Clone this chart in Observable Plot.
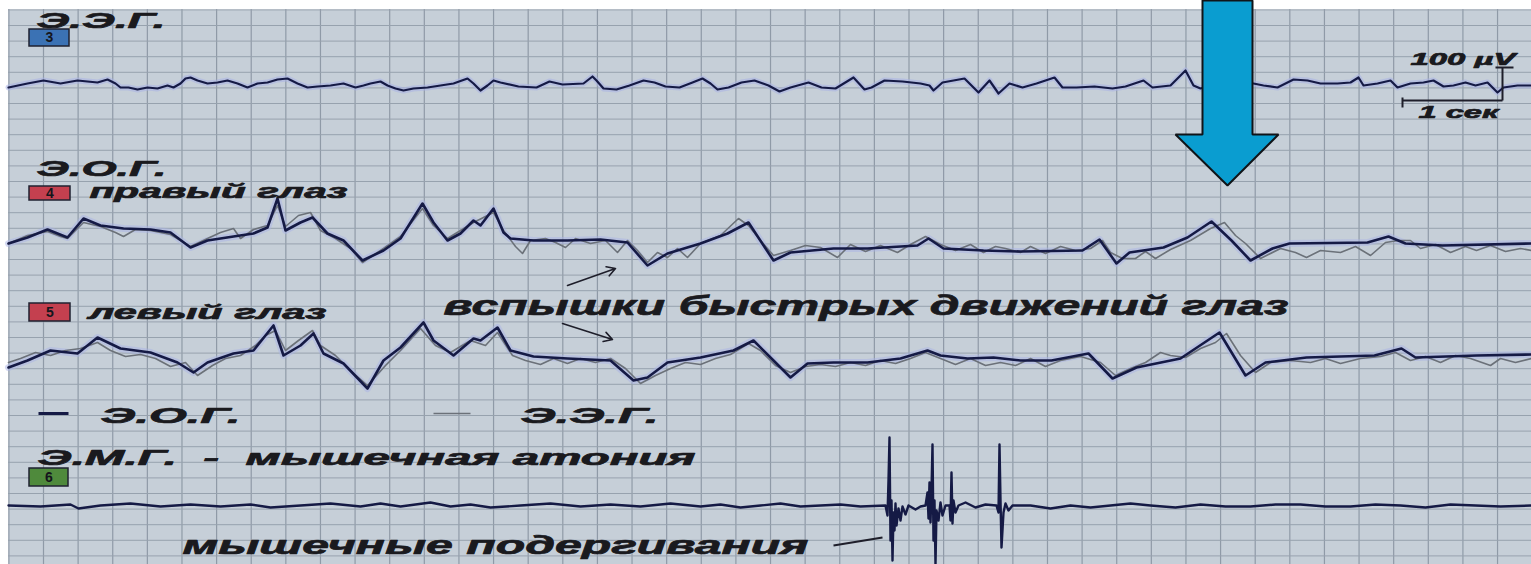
<!DOCTYPE html>
<html><head><meta charset="utf-8">
<script src="https://cdn.jsdelivr.net/npm/d3@7"></script>
<script src="https://cdn.jsdelivr.net/npm/@observablehq/plot@0.6"></script>
<style>html,body{margin:0;padding:0;background:#fff;overflow:hidden}#chart svg{display:block}</style>
</head><body><div id="chart"></div>
<script>
// ---- data: [time (s), amplitude (µV)] ----
const eeg = [[0.08,0],[0.27,12],[0.43,21],[0.60,12],[0.77,21],[0.97,15],[1.07,24],[1.15,12],[1.20,0],[1.28,0],[1.37,-6],[1.47,0],[1.57,-3],[1.67,6],[1.73,0],[1.80,12],[1.85,27],[1.90,30],[1.97,21],[2.07,12],[2.17,15],[2.27,21],[2.37,12],[2.47,0],[2.57,12],[2.67,15],[2.77,24],[2.87,27],[2.97,12],[3.07,0],[3.17,3],[3.30,6],[3.43,12],[3.55,0],[3.63,6],[3.70,12],[3.80,18],[3.87,6],[3.95,-3],[4.03,-9],[4.13,-3],[4.27,0],[4.40,6],[4.53,12],[4.67,27],[4.73,12],[4.80,-9],[4.87,6],[4.93,21],[5.00,15],[5.18,3],[5.36,0],[5.49,18],[5.62,9],[5.83,12],[5.92,33],[5.96,21],[6.03,-3],[6.16,-6],[6.29,6],[6.43,21],[6.54,15],[6.65,3],[6.79,0],[6.92,15],[7.02,27],[7.10,12],[7.17,-6],[7.28,0],[7.41,15],[7.54,21],[7.68,6],[7.79,-12],[7.90,0],[8.08,15],[8.21,0],[8.35,-3],[8.53,30],[8.64,-6],[8.71,0],[8.84,21],[9.02,18],[9.20,12],[9.29,6],[9.33,-9],[9.42,15],[9.64,27],[9.78,-15],[9.89,21],[9.98,-18],[10.09,12],[10.22,0],[10.36,12],[10.54,30],[10.62,0],[10.76,0],[10.94,3],[11.12,-3],[11.25,3],[11.43,21],[11.52,0],[11.70,6],[11.85,51],[11.93,6],[12.00,-3],[12.15,9],[12.30,3],[12.45,12],[12.53,12],[12.63,6],[12.77,0],[12.93,24],[13.07,21],[13.20,12],[13.37,12],[13.50,15],[13.58,30],[13.63,6],[13.77,12],[13.90,21],[13.97,0],[14.10,12],[14.23,15],[14.33,21],[14.43,3],[14.53,6],[14.65,15],[14.75,6],[14.87,15],[14.93,-3],[14.97,-15],[15.03,0],[15.17,6],[15.31,6]];

const eogRight = [[0.08,-15],[0.27,3],[0.47,27],[0.67,3],[0.83,60],[1.00,39],[1.23,30],[1.50,27],[1.70,18],[1.90,-27],[2.07,-6],[2.33,6],[2.53,15],[2.67,33],[2.77,120],[2.85,24],[3.00,48],[3.12,63],[3.27,15],[3.43,-6],[3.62,-66],[3.83,-36],[4.00,0],[4.22,105],[4.33,48],[4.47,-6],[4.60,15],[4.73,54],[4.80,39],[4.93,90],[5.03,18],[5.10,0],[5.33,-6],[5.67,-6],[6.00,-3],[6.27,-12],[6.47,-81],[6.67,-45],[7.00,-15],[7.27,15],[7.48,48],[7.73,-66],[7.90,-42],[8.33,-30],[8.67,-30],[9.17,-21],[9.28,0],[9.43,-30],[9.83,-36],[10.20,-39],[10.82,-36],[10.99,-3],[11.16,-75],[11.29,-42],[11.63,-27],[11.87,3],[12.11,51],[12.31,-6],[12.50,-66],[12.72,-30],[12.89,-15],[13.67,-12],[13.88,6],[14.05,-15],[14.42,-21],[15.31,-15]];
const eegOnRight = [[0.08,-15],[0.27,9],[0.47,21],[0.60,6],[0.67,0],[0.83,48],[1.00,36],[1.15,18],[1.23,6],[1.35,27],[1.50,24],[1.70,12],[1.90,-24],[2.07,0],[2.20,18],[2.33,30],[2.40,0],[2.53,27],[2.67,39],[2.77,99],[2.85,36],[2.98,69],[3.10,78],[3.20,24],[3.35,0],[3.50,-30],[3.62,-72],[3.83,-30],[4.00,6],[4.22,90],[4.33,39],[4.47,0],[4.60,24],[4.73,48],[4.93,78],[5.03,24],[5.15,-24],[5.22,-45],[5.30,-6],[5.45,0],[5.55,-12],[5.65,-27],[5.75,0],[5.90,-15],[6.05,-6],[6.17,-42],[6.27,-6],[6.37,-36],[6.47,-72],[6.57,-42],[6.67,-57],[6.77,-30],[6.87,-57],[7.00,-15],[7.20,9],[7.38,60],[7.48,39],[7.60,-6],[7.73,-51],[7.90,-36],[8.05,-21],[8.20,-27],[8.37,-57],[8.50,-18],[8.65,-39],[8.80,-21],[8.97,-42],[9.10,-18],[9.25,6],[9.40,-18],[9.55,-36],[9.70,-18],[9.83,-42],[9.95,-24],[10.05,-30],[10.20,-42],[10.30,-24],[10.45,-45],[10.60,-24],[10.75,-36],[10.90,-30],[11.02,-6],[11.10,-42],[11.22,-60],[11.35,-60],[11.45,-39],[11.55,-60],[11.70,-33],[11.90,-6],[12.10,30],[12.24,48],[12.35,9],[12.45,-15],[12.60,-60],[12.80,-30],[12.95,-42],[13.06,-57],[13.20,-36],[13.40,-42],[13.55,-24],[13.70,-51],[13.85,-12],[13.98,-6],[14.10,-6],[14.20,-30],[14.35,-18],[14.50,-42],[14.65,-24],[14.76,-36],[14.90,-21],[15.05,-39],[15.20,-30],[15.31,-36]];

const eogLeft = [[0.08,-30],[0.27,-9],[0.50,21],[0.77,12],[0.97,60],[1.20,27],[1.50,15],[1.77,-15],[1.93,-45],[2.07,-15],[2.33,12],[2.53,21],[2.73,96],[2.83,6],[3.00,36],[3.13,72],[3.23,12],[3.43,-18],[3.67,-93],[3.83,-9],[4.00,30],[4.23,105],[4.33,51],[4.53,6],[4.73,57],[4.80,51],[4.97,90],[5.10,21],[5.33,3],[5.67,-3],[6.10,-9],[6.33,-69],[6.47,-60],[6.67,-15],[7.00,0],[7.33,21],[7.53,51],[7.73,-9],[7.90,-60],[8.07,-18],[8.33,-15],[8.67,-15],[9.00,-3],[9.27,21],[9.40,6],[9.67,-3],[9.93,0],[10.20,-9],[10.51,-9],[10.88,12],[11.12,-63],[11.36,-30],[11.80,-3],[12.19,75],[12.45,-54],[12.65,-15],[13.06,0],[13.74,6],[14.01,27],[14.15,0],[14.76,6],[15.31,9]];
const eegOnLeft = [[0.08,-15],[0.20,-3],[0.35,15],[0.50,6],[0.65,21],[0.80,27],[0.97,45],[1.10,21],[1.25,3],[1.40,9],[1.55,-3],[1.70,-27],[1.85,-15],[1.97,-54],[2.12,-24],[2.25,-3],[2.40,6],[2.55,36],[2.65,66],[2.75,81],[2.85,21],[2.98,51],[3.12,81],[3.20,36],[3.35,6],[3.50,-39],[3.67,-84],[3.85,-24],[4.00,21],[4.20,87],[4.35,36],[4.50,15],[4.70,51],[4.85,36],[4.97,75],[5.12,6],[5.25,-9],[5.40,-21],[5.53,-3],[5.67,-18],[5.80,-3],[5.95,-15],[6.10,-3],[6.25,-33],[6.40,-78],[6.55,-54],[6.70,-33],[6.85,-15],[7.00,-21],[7.15,-3],[7.30,9],[7.48,42],[7.60,21],[7.75,-24],[7.90,-45],[8.05,-27],[8.20,-21],[8.35,-27],[8.50,-15],[8.65,-24],[8.80,-9],[8.95,-18],[9.10,-3],[9.25,15],[9.40,-3],[9.55,-21],[9.70,-3],[9.85,-24],[10.00,-15],[10.15,-24],[10.30,-3],[10.45,-27],[10.60,-9],[10.80,3],[11.00,-15],[11.15,-54],[11.30,-33],[11.45,-15],[11.60,15],[11.70,6],[11.85,0],[12.00,27],[12.15,45],[12.26,72],[12.40,6],[12.55,-45],[12.70,-15],[12.90,-9],[13.10,-15],[13.25,-3],[13.40,-18],[13.60,-3],[13.80,3],[13.95,15],[14.10,-9],[14.25,3],[14.40,-15],[14.55,6],[14.70,-3],[14.90,-24],[15.00,-3],[15.15,-15],[15.31,-3]];

const emg = [[0.08,0],[0.40,-3],[0.70,3],[0.78,-9],[1.00,0],[1.30,6],[1.60,-3],[1.90,3],[2.20,-3],[2.50,3],[2.70,-6],[3.00,0],[3.30,6],[3.60,-3],[3.80,6],[4.00,-3],[4.30,9],[4.50,-3],[4.70,3],[4.90,-6],[5.20,0],[5.50,6],[5.80,-3],[6.10,3],[6.40,-3],[6.70,6],[7.00,-3],[7.20,3],[7.40,-6],[7.60,0],[7.80,6],[8.00,-3],[8.20,0],[8.40,3],[8.60,-3],[8.85,0],[8.87,-30],[8.88,75],[8.89,204],[8.90,-105],[8.91,15],[8.92,-165],[8.93,-21],[8.94,-75],[8.95,6],[8.96,-60],[8.98,-9],[9.00,-45],[9.02,-3],[9.05,-27],[9.08,0],[9.15,-12],[9.20,-3],[9.25,0],[9.27,39],[9.28,-39],[9.29,69],[9.30,-51],[9.31,45],[9.32,183],[9.33,-105],[9.34,15],[9.35,-177],[9.36,-15],[9.38,-45],[9.40,9],[9.42,-30],[9.45,0],[9.49,0],[9.50,-45],[9.51,99],[9.52,-54],[9.53,15],[9.55,-21],[9.58,0],[9.65,9],[9.75,-6],[9.85,3],[9.96,0],[9.98,-21],[9.99,183],[10.00,15],[10.01,-126],[10.03,-21],[10.05,6],[10.08,-15],[10.12,0],[10.30,0],[10.50,-9],[10.70,0],[10.90,-6],[11.10,0],[11.30,6],[11.50,0],[11.75,-6],[12.00,3],[12.25,-3],[12.50,-3],[12.75,3],[13.00,3],[13.25,-3],[13.50,-3],[13.75,3],[14.00,0],[14.25,-6],[14.50,3],[14.75,0],[15.00,-3],[15.31,0]];

// texts
const labelTexts = ["Э.Э.Г.", "Э.О.Г.", "правый глаз", "левый глаз", "вспышки быстрых движений глаз", "Э.О.Г.", "Э.Э.Г.", "Э.М.Г.  -  мышечная атония", "мышечные подергивания", "100 µV", "1 сек"];
const channelNumbers = ["3", "4", "5", "6"];

// ---- layout (positions in the chart's own units: seconds / µV) ----
const offset = {eeg: -261, eogR: -714, eogL: -1071, emg: -1515};
const labelPos = [
  {t: 0.36, v: -81, w: 129, size: 22},
  {t: 0.36, v: -525, w: 130, size: 22},
  {t: 0.89, v: -591, w: 258, size: 20},
  {t: 0.88, v: -954, w: 238, size: 20},
  {t: 4.43, v: -942, w: 845, size: 28},
  {t: 1.00, v: -1266, w: 140, size: 22},
  {t: 5.20, v: -1266, w: 138, size: 22},
  {t: 0.37, v: -1392, w: 658, size: 22},
  {t: 1.82, v: -1659, w: 626, size: 26},
  {t: 14.10, v: -192, w: 105, size: 17},
  {t: 14.18, v: -351, w: 80, size: 17}
];
const labels = labelTexts.map((text, i) => ({text, ...labelPos[i]}));
const boxPos = [
  {t1: 0.29, t2: 0.69, v1: -87, v2: -138, fill: "#3b72b4"},
  {t1: 0.29, t2: 0.70, v1: -558, v2: -600, fill: "#c4404f"},
  {t1: 0.29, t2: 0.70, v1: -909, v2: -963, fill: "#c4404f"},
  {t1: 0.29, t2: 0.68, v1: -1404, v2: -1458, fill: "#4f8a3c"}
];
const boxes = channelNumbers.map((n, i) => ({n, ...boxPos[i]}));

const scaleBar = [
  {x1: 14.02, y1: -300, x2: 15.02, y2: -300},
  {x1: 15.02, y1: -300, x2: 15.02, y2: -201},
  {x1: 14.95, y1: -201, x2: 15.13, y2: -201},
  {x1: 14.02, y1: -291, x2: 14.02, y2: -321}
];
const pointerArrows = [
  {x1: 5.67, y1: -855, x2: 6.15, y2: -804},
  {x1: 5.62, y1: -969, x2: 6.12, y2: -1017}
];
const pointerLine = [{x1: 8.33, y1: -1635, x2: 8.82, y2: -1611}];
const legendSwatches = [
  {x1: 0.38, x2: 0.68, y: -1239, c: "#151a45", w: 3},
  {x1: 4.33, x2: 4.70, y: -1239, c: "#6b7179", w: 1.6}
];
const bigArrow = [[12.02,0],[12.52,0],[12.52,-402],[12.78,-402],[12.27,-555],[11.75,-402],[12.02,-402],[12.02,0]];

const gridX = d3.range(0.43 - 0.3462, 15.4, 0.3462);
const gridY = d3.range(-75 + 46.8, -1720, -46.8);

const dark = "#151a45", gray = "#6b7179", glow = "#aab3e6";
const X = d => d[0];

const plot = Plot.plot({
  width: 1531, height: 564,
  marginTop: 9, marginLeft: 8, marginRight: 0, marginBottom: 0,
  x: {domain: [0.08, 15.31], axis: null},
  y: {domain: [-1692, -27], axis: null},
  style: {background: "transparent", overflow: "visible", fontFamily: "Liberation Sans, Arial, sans-serif"},
  marks: [
    Plot.frame({fill: "#c6cfd8", stroke: "none"}),
    Plot.ruleX(gridX, {stroke: "#8f9aa7", strokeWidth: 1.2}),
    Plot.ruleY(gridY, {stroke: "#97a2ae", strokeWidth: 1}),
    // EEG channel
    Plot.line(eeg, {x: X, y: d => offset.eeg + d[1], stroke: glow, strokeWidth: 6, strokeOpacity: 0.55}),
    Plot.line(eeg, {x: X, y: d => offset.eeg + d[1], stroke: dark, strokeWidth: 2.2}),
    // EOG right
    Plot.line(eogRight, {x: X, y: d => offset.eogR + d[1], stroke: glow, strokeWidth: 7, strokeOpacity: 0.5}),
    Plot.line(eegOnRight, {x: X, y: d => offset.eogR + d[1], stroke: gray, strokeWidth: 1.6}),
    Plot.line(eogRight, {x: X, y: d => offset.eogR + d[1], stroke: dark, strokeWidth: 2.6}),
    // EOG left
    Plot.line(eogLeft, {x: X, y: d => offset.eogL + d[1], stroke: glow, strokeWidth: 7, strokeOpacity: 0.5}),
    Plot.line(eegOnLeft, {x: X, y: d => offset.eogL + d[1], stroke: gray, strokeWidth: 1.6}),
    Plot.line(eogLeft, {x: X, y: d => offset.eogL + d[1], stroke: dark, strokeWidth: 2.6}),
    // EMG
    Plot.line(emg, {x: X, y: d => offset.emg + d[1], stroke: dark, strokeWidth: 2.4}),
    // scale bar
    Plot.link(scaleBar, {x1: "x1", y1: "y1", x2: "x2", y2: "y2", stroke: "#1e1e2a", strokeWidth: 2}),
    // pointers
    Plot.arrow(pointerArrows, {x1: "x1", y1: "y1", x2: "x2", y2: "y2", stroke: "#1e1e2a", strokeWidth: 1.6, headLength: 9}),
    Plot.link(pointerLine, {x1: "x1", y1: "y1", x2: "x2", y2: "y2", stroke: "#1e1e2a", strokeWidth: 2}),
    // legend swatches
    Plot.link(legendSwatches, {x1: "x1", x2: "x2", y1: "y", y2: "y", stroke: "c", strokeWidth: "w"}),
    // channel number boxes
    Plot.rect(boxes, {x1: "t1", x2: "t2", y1: "v1", y2: "v2", fill: "fill", stroke: "#1f2230", strokeWidth: 1.5}),
    // labels
    Plot.text(labels, {x: "t", y: "v", text: "text", fontSize: "size", textAnchor: "start", lineAnchor: "bottom", fill: "#1a1a1e", stroke: "#1a1a1e", strokeWidth: 0.7, fontWeight: "bold", fontStyle: "italic"}),
    Plot.text(boxes, {x: d => (d.t1 + d.t2) / 2, y: d => (d.v1 + d.v2) / 2, text: "n", fontSize: 14, fontWeight: "bold", fill: "#15161c"}),
    // blue arrow
    Plot.line(bigArrow, {x: X, y: d => d[1], fill: "#0a9dd0", stroke: "#101418", strokeWidth: 2, strokeLinejoin: "miter"})
  ]
});

const tg = plot.querySelectorAll('g[aria-label="text"]')[0];
if (tg) {
  tg.querySelectorAll("text").forEach((el, i) => {
    el.setAttribute("textLength", labels[i].w);
    el.setAttribute("lengthAdjust", "spacingAndGlyphs");
  });
}
document.getElementById("chart").appendChild(plot);
</script>
</body></html>
